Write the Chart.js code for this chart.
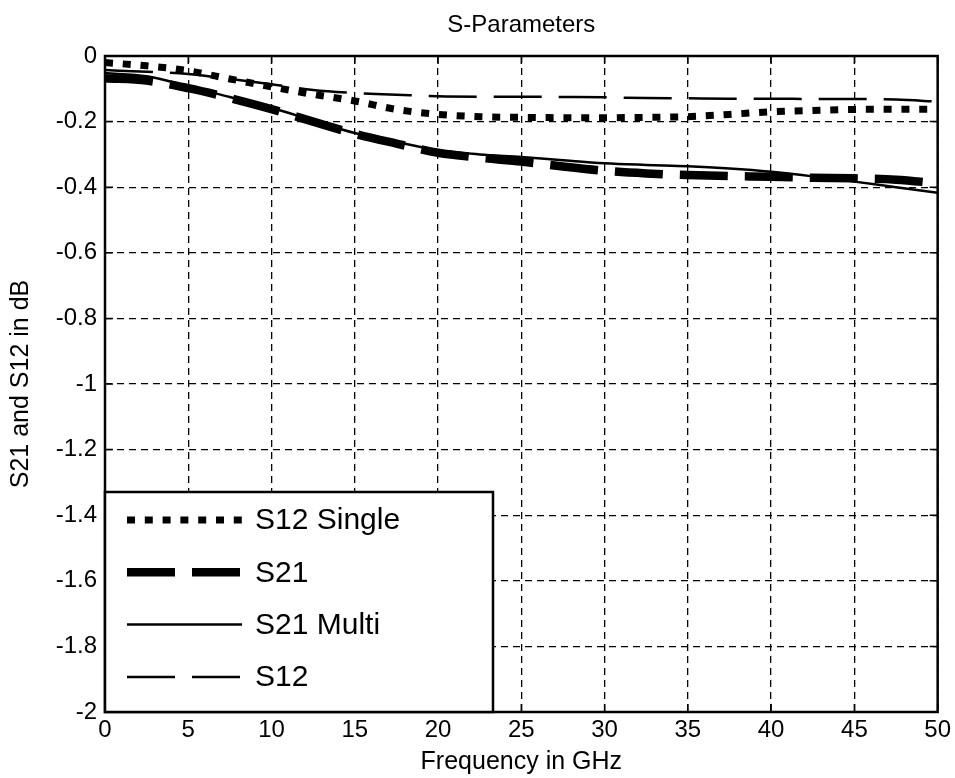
<!DOCTYPE html>
<html><head><meta charset="utf-8">
<script src="https://cdn.jsdelivr.net/npm/chart.js@4/dist/chart.umd.min.js"></script>
<style>html,body{margin:0;padding:0;background:#fff;}#wrap{width:955px;height:778px;}</style>
</head><body><div id="wrap"><canvas id="c" width="955" height="778"></canvas></div>
<script>
const freqGHz   = [0, 2.5, 5, 7.5, 10, 12.5, 15, 17.5, 20, 22.5, 25, 27.5, 30, 32.5, 35, 37.5, 40, 42.5, 45, 47.5, 50];
const s12Single = [-0.020, -0.030, -0.045, -0.070, -0.094, -0.117, -0.137, -0.163, -0.178, -0.185, -0.187, -0.188, -0.188, -0.187, -0.185, -0.178, -0.170, -0.166, -0.163, -0.162, -0.162];
const s21       = [-0.068, -0.075, -0.098, -0.128, -0.162, -0.200, -0.237, -0.267, -0.295, -0.310, -0.322, -0.337, -0.350, -0.358, -0.363, -0.366, -0.368, -0.371, -0.373, -0.377, -0.388];
const s21Multi  = [-0.052, -0.062, -0.092, -0.125, -0.158, -0.197, -0.235, -0.262, -0.287, -0.300, -0.308, -0.318, -0.327, -0.332, -0.336, -0.343, -0.353, -0.367, -0.383, -0.400, -0.417];
const s12       = [-0.043, -0.048, -0.055, -0.070, -0.086, -0.104, -0.113, -0.118, -0.123, -0.124, -0.124, -0.125, -0.126, -0.128, -0.129, -0.130, -0.130, -0.131, -0.131, -0.133, -0.139];
const seriesNames = ['S12 Single', 'S21', 'S21 Multi', 'S12'];
const xTicks = [0, 5, 10, 15, 20, 25, 30, 35, 40, 45, 50];
const yTicks = [0, -0.2, -0.4, -0.6, -0.8, -1, -1.2, -1.4, -1.6, -1.8, -2];
const yTickLabels = ['0', '-0.2', '-0.4', '-0.6', '-0.8', '-1', '-1.2', '-1.4', '-1.6', '-1.8', '-2'];
const titleText = 'S-Parameters';
const xTitle = 'Frequency in GHz';
const yTitle = 'S21 and S12 in dB';

const FONT = '"Liberation Sans", Arial, Helvetica, sans-serif';
const pts = arr => freqGHz.map((f, i) => ({x: f, y: arr[i]}));

const styles = [
  {borderWidth: 7, borderDash: [8, 9.8]},
  {borderWidth: 8.5, borderDash: [48, 17]},
  {borderWidth: 2.5, borderDash: []},
  {borderWidth: 2.5, borderDash: [48, 17]}
];
const values = [s12Single, s21, s21Multi, s12];

const datasets = values.map((v, i) => ({
  label: seriesNames[i],
  data: pts(v),
  borderColor: '#000',
  backgroundColor: '#000',
  borderWidth: styles[i].borderWidth,
  borderDash: styles[i].borderDash,
  borderCapStyle: 'butt',
  borderJoinStyle: 'miter',
  pointRadius: 0,
  cubicInterpolationMode: 'monotone',
  fill: false,
  order: 4 - i
}));

const framePlugin = {
  id: 'frame',
  afterDatasetsDraw(chart) {
    const {ctx, chartArea: a, scales} = chart;
    ctx.save();
    ctx.strokeStyle = '#000';
    ctx.setLineDash([]);
    ctx.lineWidth = 1.5;
    const tl = 8;
    ctx.beginPath();
    xTicks.forEach(v => {
      const px = scales.x.getPixelForValue(v);
      ctx.moveTo(px, a.bottom); ctx.lineTo(px, a.bottom - tl);
      ctx.moveTo(px, a.top); ctx.lineTo(px, a.top + tl);
    });
    yTicks.forEach(v => {
      const py = scales.y.getPixelForValue(v);
      ctx.moveTo(a.left, py); ctx.lineTo(a.left + tl, py);
      ctx.moveTo(a.right, py); ctx.lineTo(a.right - tl, py);
    });
    ctx.stroke();
    ctx.lineWidth = 2.5;
    ctx.strokeRect(a.left, a.top, a.right - a.left, a.bottom - a.top);
    ctx.restore();
  }
};

const legendBoxPlugin = {
  id: 'legendBox',
  afterDraw(chart) {
    const {ctx, chartArea: a} = chart;
    const w = 388, h = 220;
    const x0 = a.left, y0 = a.bottom - h;
    ctx.save();
    ctx.fillStyle = '#fff';
    ctx.fillRect(x0, y0, w, h);
    ctx.strokeStyle = '#000';
    ctx.lineWidth = 2.5;
    ctx.setLineDash([]);
    ctx.strokeRect(x0, y0, w, h);
    chart.data.datasets.forEach((ds, i) => {
      const cy = y0 + 28 + i * 52.3;
      ctx.beginPath();
      ctx.lineWidth = ds.borderWidth;
      ctx.setLineDash(ds.borderDash || []);
      ctx.lineCap = 'butt';
      ctx.strokeStyle = ds.borderColor;
      ctx.moveTo(x0 + 22, cy);
      ctx.lineTo(x0 + 137, cy);
      ctx.stroke();
      ctx.setLineDash([]);
      ctx.fillStyle = '#000';
      ctx.font = '30px ' + FONT;
      ctx.textBaseline = 'middle';
      ctx.textAlign = 'left';
      ctx.fillText(ds.label, x0 + 150, cy + 1);
    });
    ctx.restore();
  }
};

new Chart(document.getElementById('c'), {
  type: 'line',
  data: {datasets},
  plugins: [framePlugin, legendBoxPlugin],
  options: {
    responsive: false,
    animation: false,
    devicePixelRatio: 1,
    layout: {padding: {left: 0, right: 16, top: 0, bottom: 0}},
    plugins: {
      legend: {display: false},
      tooltip: {enabled: false},
      title: {
        display: true,
        text: titleText,
        color: '#000',
        fullSize: false,
        font: {family: FONT, size: 24, weight: 'normal', lineHeight: 1.2},
        padding: {top: 10.6, bottom: 16.6}
      }
    },
    scales: {
      x: {
        type: 'linear',
        min: 0, max: 50,
        afterBuildTicks: s => { s.ticks = xTicks.map(v => ({value: v})); },
        afterFit: s => { s.height = 66; },
        grid: {color: '#000', lineWidth: 1.3, drawTicks: false},
        border: {display: false, dash: [7, 5]},
        ticks: {color: '#000', font: {family: FONT, size: 24}, padding: 4, maxRotation: 0, autoSkip: false,
                callback: v => String(v)},
        title: {display: true, text: xTitle, color: '#000', font: {family: FONT, size: 25, lineHeight: 1.2}, padding: {top: 0, bottom: 1}}
      },
      y: {
        type: 'linear',
        min: -2, max: 0,
        afterBuildTicks: s => { s.ticks = yTicks.map(v => ({value: v})); },
        afterFit: s => { s.width = 105; },
        grid: {color: '#000', lineWidth: 1.3, drawTicks: false},
        border: {display: false, dash: [7, 5]},
        ticks: {color: '#000', font: {family: FONT, size: 24}, padding: 8, autoSkip: false,
                callback: (v) => { const k = yTicks.findIndex(t => Math.abs(t - v) < 1e-9); return k >= 0 ? yTickLabels[k] : ''; }},
        title: {display: true, text: yTitle, color: '#000', font: {family: FONT, size: 25, lineHeight: 1.2}, padding: {top: 6, bottom: 0}}
      }
    }
  }
});
</script></body></html>
